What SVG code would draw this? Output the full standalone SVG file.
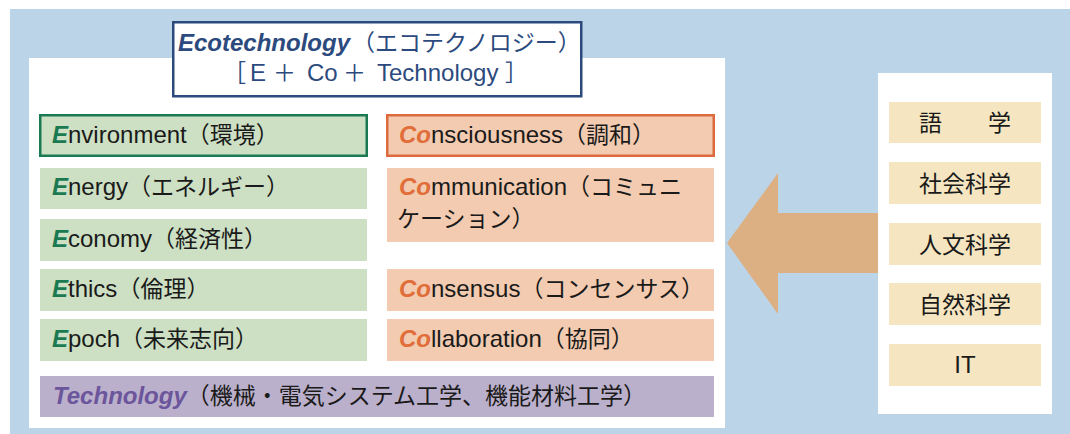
<svg xmlns="http://www.w3.org/2000/svg" width="1070" height="434" viewBox="0 0 1070 434">
<style>
  .t { font-family: "Liberation Sans", Arial, sans-serif; font-size: 24px; fill: #1a1a1a; }
  .jp { font-family: "Noto Sans CJK JP", "Noto Sans", sans-serif; font-size: 23px; }
  .e { font-weight: bold; font-style: italic; fill: #1b7a52; }
  .co { font-weight: bold; font-style: italic; fill: #e06d3a; }
  .green { fill: #cde0c4; }
  .orange { fill: #f2cbb0; }
  .beige { fill: #f5e6c1; }
  .title { fill: #2c4a7e; }
  .rt { font-family: "Noto Sans CJK JP", sans-serif; font-size: 23px; fill: #1a1a1a; text-anchor: middle; }
</style>
<rect x="10" y="9" width="1060" height="425" fill="#bcd4e7"/>
<rect id="left-panel" x="29" y="58" width="696" height="370" fill="#ffffff"/>

<g id="title">
  <rect x="173.25" y="22.25" width="408" height="74" fill="#ffffff" stroke="#2c4a7e" stroke-width="2.5"/>
  <text class="t title" x="178" y="50.5"><tspan font-weight="bold" font-style="italic">Ecotechnology</tspan><tspan class="jp" font-size="22" dx="2">（エコテクノロジー）</tspan></text>
  <text class="t title" y="81"><tspan class="jp" font-size="22" x="223">［</tspan><tspan x="250">E</tspan><tspan class="jp" font-size="22" x="273">＋</tspan><tspan x="307">Co</tspan><tspan class="jp" font-size="22" x="343">＋</tspan><tspan x="377">Technology</tspan><tspan class="jp" font-size="22" x="505">］</tspan></text>
</g>

<g id="environment">
  <rect class="green" x="40.25" y="115.25" width="326.5" height="40.5" stroke="#1b7a52" stroke-width="2.5"/>
  <text class="t" x="52" y="142.5"><tspan class="e">E</tspan>nvironment<tspan class="jp">（環境）</tspan></text>
</g>
<g id="energy">
  <rect class="green" x="40" y="168" width="327" height="41"/>
  <text class="t" x="52" y="195"><tspan class="e">E</tspan>nergy<tspan class="jp">（エネルギー）</tspan></text>
</g>
<g id="economy">
  <rect class="green" x="40" y="219" width="327" height="42"/>
  <text class="t" x="52" y="246.5"><tspan class="e">E</tspan>conomy<tspan class="jp">（経済性）</tspan></text>
</g>
<g id="ethics">
  <rect class="green" x="40" y="269" width="327" height="42"/>
  <text class="t" x="52" y="297"><tspan class="e">E</tspan>thics<tspan class="jp">（倫理）</tspan></text>
</g>
<g id="epoch">
  <rect class="green" x="40" y="319" width="327" height="42"/>
  <text class="t" x="52" y="347"><tspan class="e">E</tspan>poch<tspan class="jp">（未来志向）</tspan></text>
</g>

<g id="consciousness">
  <rect class="orange" x="387.25" y="115.25" width="326.5" height="40.5" stroke="#dc6a3c" stroke-width="2.5"/>
  <text class="t" x="399" y="142.5"><tspan class="co">Co</tspan>nsciousness<tspan class="jp">（調和）</tspan></text>
</g>
<g id="communication">
  <rect class="orange" x="387" y="168" width="327" height="74"/>
  <text class="t" x="399" y="195"><tspan class="co">Co</tspan>mmunication<tspan class="jp">（コミュニ</tspan></text>
  <text class="t jp" x="397" y="227">ケーション）</text>
</g>
<g id="consensus">
  <rect class="orange" x="387" y="269" width="327" height="42"/>
  <text class="t" x="399" y="297"><tspan class="co">Co</tspan>nsensus<tspan class="jp">（コンセンサス）</tspan></text>
</g>
<g id="collaboration">
  <rect class="orange" x="387" y="319" width="327" height="42"/>
  <text class="t" x="399" y="347"><tspan class="co">Co</tspan>llaboration<tspan class="jp">（協同）</tspan></text>
</g>

<g id="technology">
  <rect x="40" y="376" width="674" height="41" fill="#bbb0cb"/>
  <text class="t" x="53" y="404"><tspan font-weight="bold" font-style="italic" fill="#6b559b">Technology</tspan><tspan class="jp">（機械・電気システム工学、機能材料工学）</tspan></text>
</g>

<g id="connectors">
  <polygon points="727,243 778,173 778,213 880,213 880,273 778,273 778,314" fill="#dcb083"/>
</g>

<rect id="right-panel" x="878" y="73" width="174" height="341" fill="#ffffff"/>
<g id="gogaku">
  <rect class="beige" x="889" y="102" width="152" height="41"/>
  <text class="rt" x="965" y="131">語　　学</text>
</g>
<g id="shakai">
  <rect class="beige" x="889" y="162" width="152" height="42"/>
  <text class="rt" x="965" y="191.5">社会科学</text>
</g>
<g id="jinbun">
  <rect class="beige" x="889" y="223" width="152" height="42"/>
  <text class="rt" x="965" y="252.5">人文科学</text>
</g>
<g id="shizen">
  <rect class="beige" x="889" y="283" width="152" height="42"/>
  <text class="rt" x="965" y="312.5">自然科学</text>
</g>
<g id="it">
  <rect class="beige" x="889" y="344" width="152" height="42"/>
  <text class="t" x="965" y="373" text-anchor="middle">IT</text>
</g>
</svg>
